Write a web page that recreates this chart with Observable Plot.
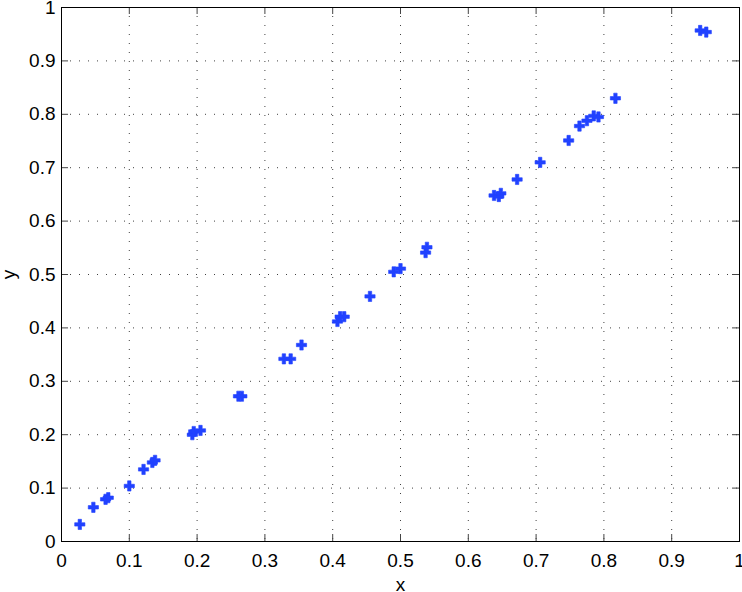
<!DOCTYPE html>
<html>
<head>
<meta charset="utf-8">
<script src="https://cdn.jsdelivr.net/npm/d3@7"></script>
<script src="https://cdn.jsdelivr.net/npm/@observablehq/plot@0.6"></script>
<style>
  html, body { margin: 0; padding: 0; background: #fff; }
</style>
</head>
<body>
<div id="chart"></div>
<script>
const xs = [0.027, 0.047, 0.065, 0.069, 0.100, 0.121, 0.134, 0.138, 0.193, 0.195, 0.205,
            0.261, 0.266, 0.328, 0.338, 0.354, 0.407, 0.411, 0.417, 0.455, 0.490, 0.500,
            0.537, 0.539, 0.638, 0.645, 0.648, 0.672, 0.706, 0.748, 0.764, 0.775, 0.785,
            0.792, 0.817, 0.942, 0.951];
const ys = [0.032, 0.064, 0.079, 0.082, 0.104, 0.135, 0.148, 0.152, 0.200, 0.206, 0.208,
            0.272, 0.272, 0.342, 0.342, 0.368, 0.412, 0.421, 0.421, 0.459, 0.505, 0.511,
            0.541, 0.551, 0.648, 0.646, 0.652, 0.678, 0.710, 0.751, 0.778, 0.788, 0.797,
            0.795, 0.830, 0.957, 0.954];
const tickValues = [0, 0.1, 0.2, 0.3, 0.4, 0.5, 0.6, 0.7, 0.8, 0.9, 1];
const tickLabels = ["0", "0.1", "0.2", "0.3", "0.4", "0.5", "0.6", "0.7", "0.8", "0.9", "1"];

const points = xs.map((x, i) => ({x, y: ys[i]}));
const fmt = d => tickLabels[tickValues.findIndex(t => Math.abs(t - d) < 1e-9)];
const inner = tickValues.slice(1, -1);

const chart = Plot.plot({
  width: 742,
  height: 592,
  marginLeft: 61,
  marginRight: 3,
  marginTop: 7,
  marginBottom: 51,
  style: {fontFamily: "'Liberation Sans', Arial, Helvetica, sans-serif", fontSize: "19px", color: "#000", background: "#fff", overflow: "visible"},
  x: {domain: [0, 1]},
  y: {domain: [0, 1]},
  marks: [
    Plot.gridX(inner, {stroke: "#000", strokeOpacity: 0.75, strokeDasharray: "1,8"}),
    Plot.gridY(inner, {stroke: "#000", strokeOpacity: 0.75, strokeDasharray: "1,8"}),
    Plot.tickX(tickValues, {x: d => d, insetTop: 527, stroke: "#444"}),
    Plot.tickX(tickValues, {x: d => d, insetBottom: 527, stroke: "#444"}),
    Plot.tickY(tickValues, {y: d => d, insetRight: 671, stroke: "#444"}),
    Plot.tickY(tickValues, {y: d => d, insetLeft: 671, stroke: "#444"}),
    Plot.axisX(tickValues, {anchor: "bottom", tickSize: 0, tickPadding: 12, tickFormat: fmt, fontSize: 19,
      label: "x", labelAnchor: "center", labelArrow: "none", labelOffset: 49}),
    Plot.axisY(tickValues, {anchor: "left", tickSize: 0, tickPadding: 6, tickFormat: fmt, fontSize: 19,
      label: "y", labelAnchor: "center", labelArrow: "none", labelOffset: 60}),
    Plot.frame({stroke: "#000", strokeWidth: 1}),
    Plot.dot(points, {x: "x", y: "y", symbol: "cross", r: 4.3, fill: "#2142ff", stroke: "#2142ff", strokeWidth: 0.6})
  ]
});
document.getElementById("chart").appendChild(chart);
</script>
</body>
</html>
